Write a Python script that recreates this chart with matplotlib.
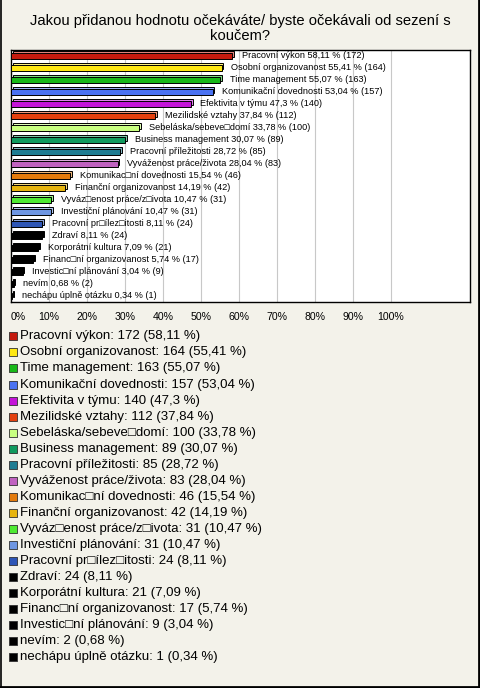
import matplotlib.pyplot as plt
from matplotlib.lines import Line2D
from matplotlib.colors import to_rgb

plt.rcParams['font.family'] = ['Liberation Sans', 'DejaVu Sans']

# Data
labels = [
    "Pracovní výkon", "Osobní organizovanost", "Time management",
    "Komunikační dovednosti", "Efektivita v týmu", "Mezilidské vztahy",
    "Sebeláska/sebeve\u25a1domí", "Business management", "Pracovní příležitosti",
    "Vyváženost práce/života", "Komunikac\u25a1ní dovednosti", "Finanční organizovanost",
    "Vyváz\u25a1enost práce/z\u25a1ivota", "Investiční plánování", "Pracovní pr\u25a1ílez\u25a1itosti",
    "Zdraví", "Korporátní kultura", "Financ\u25a1ní organizovanost",
    "Investic\u25a1ní plánování", "nevím", "nechápu úplně otázku",
]
counts = [172, 164, 163, 157, 140, 112, 100, 89, 85, 83, 46, 42, 31, 31, 24, 24, 21, 17, 9, 2, 1]
percents = [58.11, 55.41, 55.07, 53.04, 47.3, 37.84, 33.78, 30.07, 28.72, 28.04,
            15.54, 14.19, 10.47, 10.47, 8.11, 8.11, 7.09, 5.74, 3.04, 0.68, 0.34]
colors = ["#C41A0E", "#FFE812", "#18B818", "#4A72F2", "#C414D8", "#E2400E",
          "#C8FF80", "#109A5E", "#1E7C92", "#C062C0", "#E27A0C", "#E6B40E",
          "#4EEA32", "#6E96E2", "#2E56B6", "#000000", "#000000", "#000000",
          "#000000", "#000000", "#000000"]
xticks = [0, 10, 20, 30, 40, 50, 60, 70, 80, 90, 100]

W, H = 480, 688
BG = "#F3F2EA"


def fmt(p):
    return str(p).replace(".", ",")


def lighter(c, f=0.45):
    r, g, b = to_rgb(c)
    return (r + (1 - r) * f, g + (1 - g) * f, b + (1 - b) * f)


fig = plt.figure(figsize=(W / 100, H / 100), dpi=100)
fig.patch.set_facecolor(BG)

# Title
fig.text(0.5, 1 - 28.5 / H,
         "Jakou přidanou hodnotu očekáváte/ byste očekávali od sezení s\nkoučem?",
         ha="center", va="center", fontsize=10.6, linespacing=1.02)

# Bar chart area
ax = fig.add_axes([11 / W, 1 - 302 / H, 459 / W, 252 / H])
ax.set_facecolor("white")
n = len(labels)
ys = list(range(n))

ax.set_xlim(0, 120.8)
ax.set_ylim(n - 1 + 0.525, -0.475)
for x in xticks[1:]:
    ax.axvline(x, color="#C8C8C8", lw=0.8, zorder=0)

# 3D-ish bars: back face then front face
back_y = [y - 0.13 for y in ys]
back_left = [0.5] * n
ax.barh(back_y, percents, left=back_left, height=0.5,
        color=[lighter(c) if c != "#000000" else "#000000" for c in colors],
        edgecolor="black", linewidth=0.7, zorder=2)
ax.barh(ys, percents, height=0.5, color=colors, edgecolor="black",
        linewidth=0.7, zorder=3)

for y, lab, p, c in zip(ys, labels, percents, counts):
    ax.annotate(f"{lab} {fmt(p)} % ({c})", xy=(p, y), xytext=(7, 0),
                textcoords="offset points", va="center", ha="left",
                fontsize=6.6, zorder=4)

ax.set_yticks([])
ax.set_xticks(xticks)
ax.set_xticklabels([f"{x}%" for x in xticks], fontsize=7.6)
ax.get_xticklabels()[0].set_horizontalalignment("left")
ax.tick_params(axis="x", length=0, pad=7)
for s in ax.spines.values():
    s.set_linewidth(1.0)
    s.set_color("black")

# Legend area
lax = fig.add_axes([0, 1 - 665 / H, 1, 336.6 / H])
lax.set_xlim(0, W)
lax.set_ylim(n, 0)
lax.axis("off")
for i, (lab, c, p, col) in enumerate(zip(labels, counts, percents, colors)):
    lax.scatter(12.5, i + 0.5, marker="s", s=30, color=col,
                edgecolors="#303030", linewidths=0.6)
    lax.text(20, i + 0.5, f"{lab}: {c} ({fmt(p)} %)", va="center", ha="left",
             fontsize=9.5)

# Frame around figure (left, right, bottom)
fig.add_artist(Line2D([0.5 / W, 0.5 / W], [0, 1], color="black", lw=1.2))
fig.add_artist(Line2D([1 - 1 / W, 1 - 1 / W], [0, 1], color="black", lw=2))
fig.add_artist(Line2D([0, 1], [1 / H, 1 / H], color="black", lw=2))

fig.savefig("out.png", dpi=100, facecolor=fig.get_facecolor())
